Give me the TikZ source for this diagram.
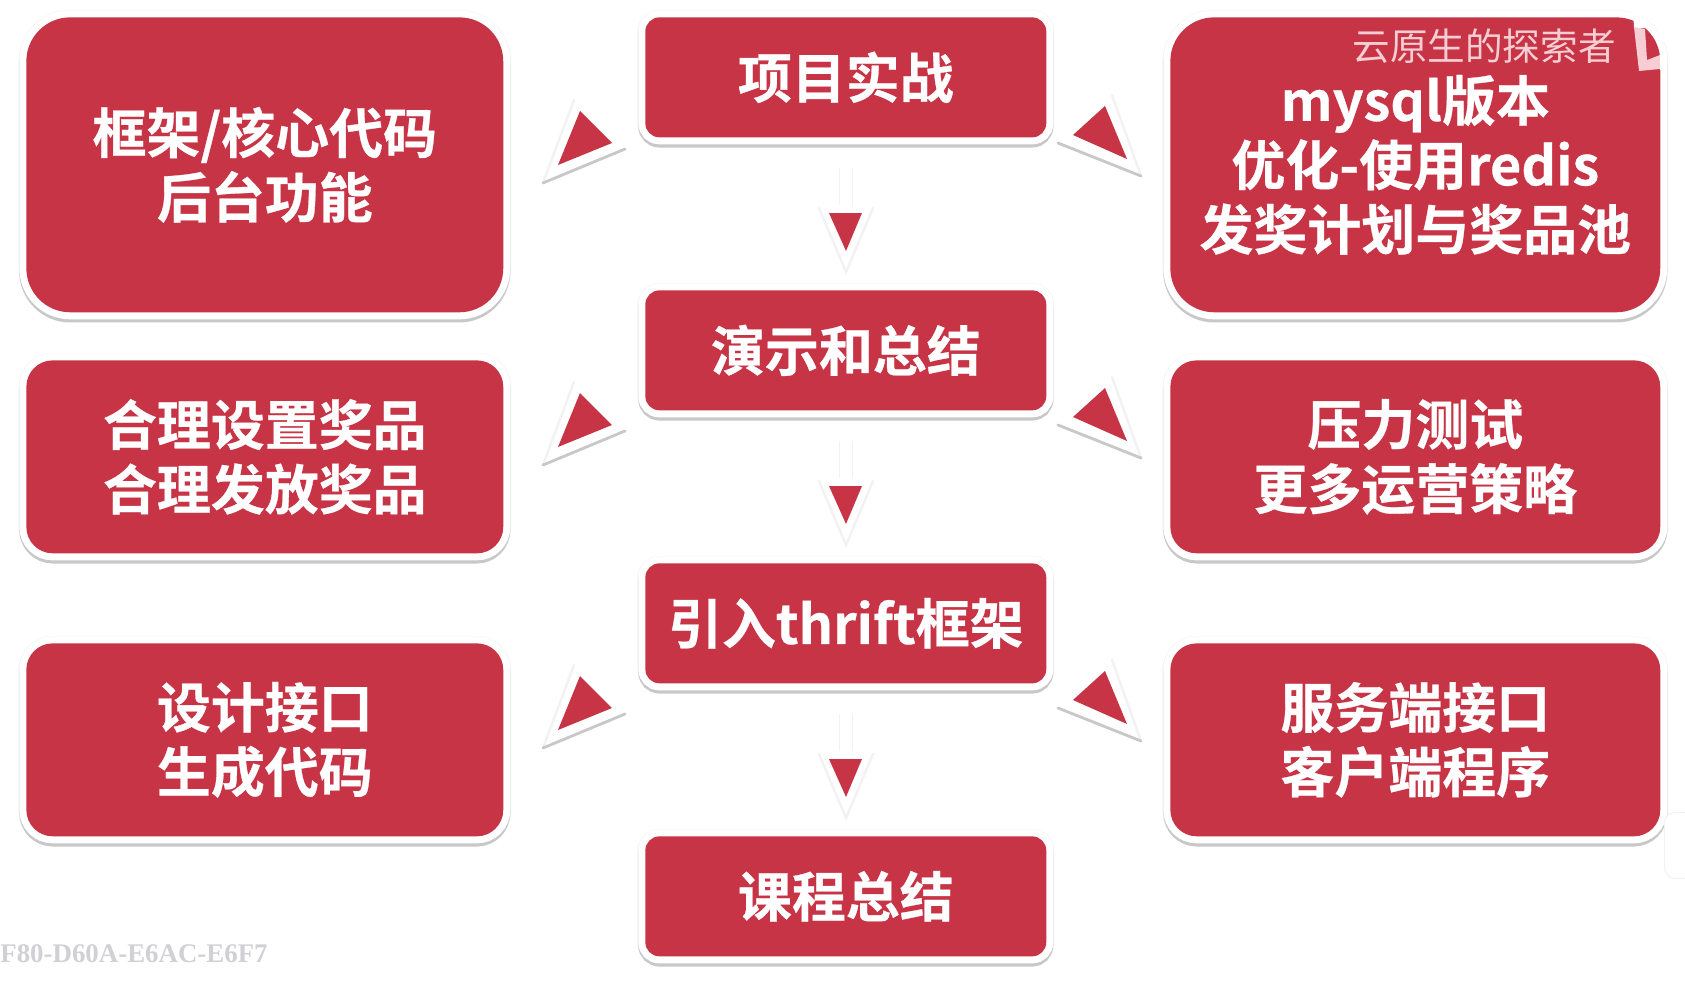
\documentclass[tikz,border=0pt]{standalone}
\usepackage{fontspec}
\setmainfont{Noto Sans CJK SC}[BoldFont={Noto Sans CJK SC Bold},BoldFeatures={FakeBold=0.5}]
\newfontfamily\serialfont{Liberation Serif}
\definecolor{boxred}{RGB}{199,52,70}
\definecolor{edgegray}{RGB}{200,200,200}
\definecolor{palegray}{RGB}{242,242,242}
\definecolor{markpink}{RGB}{246,205,210}
\definecolor{serialgray}{RGB}{208,208,213}
\tikzset{
  panel/.style={fill=boxred,text=white,align=center,inner sep=0pt,anchor=north west,
    font=\bfseries\fontsize{30.7}{36.7}\selectfont,rounded corners=#1,
    preaction={draw=palegray,line width=9pt,transform canvas={yshift=-0.3pt}},
    preaction={draw=edgegray,line width=8pt,transform canvas={yshift=-1.8pt}},
    preaction={draw=white,line width=8pt}},
  mid/.style={panel=8pt,minimum width=8.02cm,minimum height=2.4cm},
  leftbig/.style={panel=25pt,minimum width=9.54cm,minimum height=5.9cm},
  leftlow/.style={panel=15pt,minimum width=9.54cm,minimum height=3.86cm},
  rightbig/.style={panel=25pt,minimum width=9.8cm,minimum height=5.9cm},
  rightlow/.style={panel=15pt,minimum width=9.8cm,minimum height=3.86cm},
  stemline/.style={draw=palegray,line width=1pt,double=white,double distance=6.5pt},
  rim/.style={draw=edgegray,line width=1.6pt,line cap=round},
  softrim/.style={draw=palegray,line width=1.4pt,line cap=round}
}
\begin{document}
\begin{tikzpicture}[x=0.02cm,y=-0.02cm]
\useasboundingbox (0,0) rectangle (1685,984);
\fill[white] (0,0) rectangle (1685,984);
% middle column
\node[mid] (project) at (645,17) {项目实战};
\node[mid] (demo) at (645,290) {演示和总结};
\node[mid] (thrift) at (645,563) {引入thrift框架};
\node[mid] (summary) at (645,836) {课程总结};
% left column
\node[leftbig] (core) at (26,17) {框架/核心代码\\后台功能};
\node[leftlow] (prize) at (26,360) {合理设置奖品\\合理发放奖品};
\node[leftlow] (iface) at (26,643) {设计接口\\生成代码};
% right column
\node[rightbig] (mysql) at (1170,17) {mysql版本\\优化-使用redis\\发奖计划与奖品池};
\node[rightlow] (stress) at (1170,360) {压力测试\\更多运营策略};
\node[rightlow] (server) at (1170,643) {服务端接口\\客户端程序};
% triangles towards the outer columns
\foreach \yy in {0,282,565} {
  \draw[softrim] (543,183+\yy)--(574,100+\yy);
  \draw[rim] (543,183+\yy)--(625,149+\yy);
  \fill[boxred] (580,111+\yy)--(612,143+\yy)--(558,165+\yy)--cycle;
  \draw[softrim] (1141,176+\yy)--(1112,95+\yy);
  \draw[rim] (1141,176+\yy)--(1058,143+\yy);
  \fill[boxred] (1105,106+\yy)--(1127,159+\yy)--(1073,135+\yy)--cycle;
}
% arrows going down
\foreach \n/\yy in {1/0,2/273,3/546} {
  \coordinate (stemtop\n) at (846,168+\yy);
  \coordinate (stemend\n) at (846,205+\yy);
  \draw[stemline] (stemtop\n)--(stemend\n);
  \draw[softrim] (819,208+\yy)--(846,272+\yy)--(873,208+\yy);
  \fill[boxred] (829,213+\yy)--(862,213+\yy)--(846,251+\yy)--cycle;
}
% overlay from the video player
\node[text=markpink,font=\fontsize{21.4}{21.4}\selectfont,inner sep=0pt] (channel) at (1484,46) {云原生的探索者};
\fill[white] (1633,8)--(1645,8)--(1647,28)--(1634,28)--cycle;
\fill[markpink] (1634,27)--(1645,29)--(1647,60)--(1660,55)--(1660,69)--(1639,71)--cycle;
\fill[white] (1660,15) rectangle (1664,70);
\node[draw=palegray,fill=white,rounded corners=6pt,line width=0.6pt,minimum width=30pt,minimum height=37.5pt,inner sep=0pt,anchor=north west] (tab) at (1664,812) {};
\node[text=serialgray,font=\serialfont\bfseries\fontsize{15.3}{15.3}\selectfont,inner sep=0pt,anchor=west] (serial) at (0,954) {F80-D60A-E6AC-E6F7};
\end{tikzpicture}
\end{document}
